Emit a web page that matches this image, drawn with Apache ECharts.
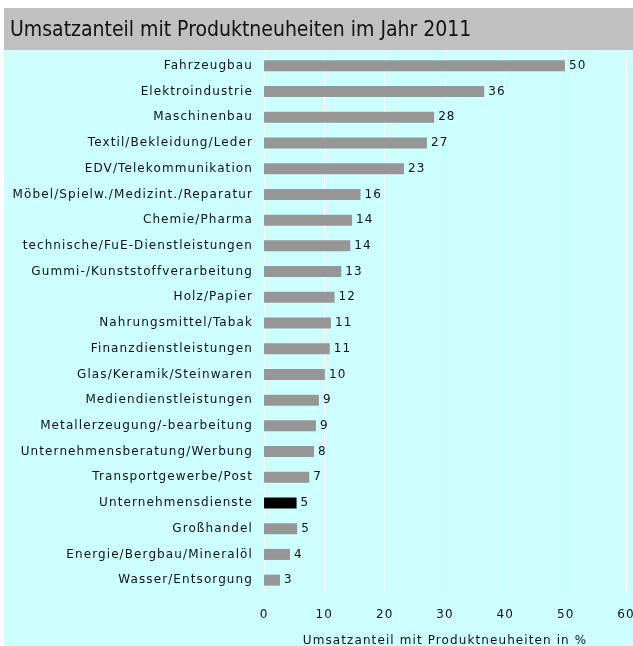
<!DOCTYPE html>
<html>
<head>
<meta charset="utf-8">
<script src="https://cdn.jsdelivr.net/npm/echarts@6/dist/echarts.min.js"></script>
<style>
  html, body { margin: 0; padding: 0; background: #fff; }
  #chart { width: 633px; height: 646px; }
</style>
</head>
<body>
<div id="chart"></div>
<script>
var branchen = [
    'Fahrzeugbau', 'Elektroindustrie', 'Maschinenbau', 'Textil/Bekleidung/Leder',
    'EDV/Telekommunikation', 'Möbel/Spielw./Medizint./Reparatur', 'Chemie/Pharma',
    'technische/FuE-Dienstleistungen', 'Gummi-/Kunststoffverarbeitung', 'Holz/Papier',
    'Nahrungsmittel/Tabak', 'Finanzdienstleistungen', 'Glas/Keramik/Steinwaren',
    'Mediendienstleistungen', 'Metallerzeugung/-bearbeitung', 'Unternehmensberatung/Werbung',
    'Transportgewerbe/Post', 'Unternehmensdienste', 'Großhandel',
    'Energie/Bergbau/Mineralöl', 'Wasser/Entsorgung'
];
// Balkenlaengen (aus dem Bild geschaetzt)
var anteil = [49.9, 36.5, 28.2, 27.0, 23.2, 16.0, 14.6, 14.3, 12.8, 11.7, 11.1,
              10.9, 10.1, 9.1, 8.6, 8.3, 7.5, 5.4, 5.5, 4.3, 2.65];
// gedruckte Werte
var anteilLabel = [50, 36, 28, 27, 23, 16, 14, 14, 13, 12, 11, 11, 10, 9, 9, 8, 7, 5, 5, 4, 3];
var markiert = 'Unternehmensdienste';
var xTicks = [0, 10, 20, 30, 40, 50, 60];

/* Achsenbeschriftung im Original etwas gesperrt */
(function () {
    var proto = CanvasRenderingContext2D.prototype;
    var fill = proto.fillText;
    proto.fillText = function (t, x, y, w) {
        if ('letterSpacing' in this) {
            this.letterSpacing = /12px/.test(this.font) ? '1.1px' : '0px';
        }
        return w === undefined ? fill.call(this, t, x, y) : fill.call(this, t, x, y, w);
    };
})();

var myChart = echarts.init(document.getElementById('chart'));
var font = 'DejaVu Sans';
var lblColor = '#111';

var option = {
    animation: false,
    textStyle: { fontFamily: font },
    graphic: [
        { type: 'rect', z: -10, shape: { x: 4, y: 8, width: 629, height: 42 }, style: { fill: '#c0c0c0' } },
        { type: 'rect', z: -10, shape: { x: 4, y: 50, width: 629, height: 596 }, style: { fill: '#ccffff' } },
        {
            type: 'text', z: 10,
            style: {
                x: 10, y: 31,
                text: 'Umsatzanteil mit Produktneuheiten im Jahr 2011',
                font: '21px "DejaVu Sans Condensed", "Open Sans"',
                fill: '#111',
                verticalAlign: 'middle'
            }
        }
    ],
    grid: { left: 264, right: 7, top: 53, bottom: 53, containLabel: false, outerBoundsMode: 'none' },
    xAxis: {
        type: 'value',
        min: xTicks[0],
        max: xTicks[xTicks.length - 1],
        interval: 10,
        axisLine: { show: false },
        axisTick: { show: false },
        splitLine: { show: true, lineStyle: { color: '#ffffff', width: 1 } },
        axisLabel: { margin: 16, fontSize: 12, color: lblColor, fontFamily: font },
        name: 'Umsatzanteil mit Produktneuheiten in %',
        nameLocation: 'middle',
        nameGap: 42,
        nameTextStyle: { fontSize: 12, color: lblColor, fontFamily: font }
    },
    yAxis: {
        type: 'category',
        data: branchen,
        inverse: true,
        axisLine: { show: false },
        axisTick: { show: false },
        axisLabel: { interval: 0, margin: 11, fontSize: 12, color: lblColor, fontFamily: font }
    },
    series: [{
        type: 'bar',
        barWidth: 11,
        data: anteil.map(function (v, i) {
            return {
                value: v,
                itemStyle: { color: branchen[i] === markiert ? '#000000' : '#969696' }
            };
        }),
        label: {
            show: true,
            position: 'right',
            distance: 4,
            fontSize: 12,
            color: lblColor,
            fontFamily: font,
            formatter: function (p) { return anteilLabel[p.dataIndex]; }
        }
    }]
};

myChart.setOption(option);
</script>
</body>
</html>
